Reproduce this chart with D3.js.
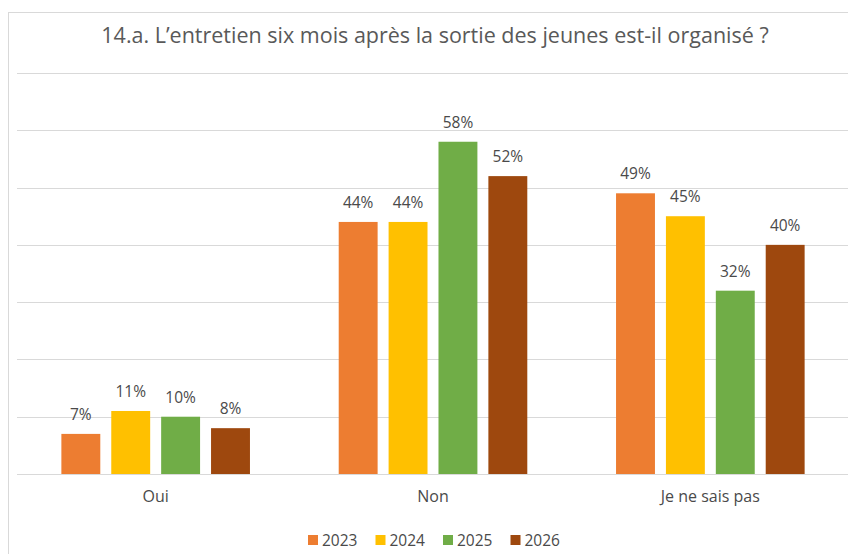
<!DOCTYPE html>
<html>
<head>
<meta charset="utf-8">
<script src="https://cdn.jsdelivr.net/npm/d3@7"></script>
<style>
    body { margin: 0; background: #fff; }
    text { font-family: "Open Sans", "DejaVu Sans", sans-serif; fill: #4a4a4a; }
</style>
</head>
<body>
<script>
(function () {
    var categories = ['Oui', 'Non', 'Je ne sais pas'];
    var years = ['2023', '2024', '2025', '2026'];
    var values2023 = [7, 44, 49];
    var values2024 = [11, 44, 45];
    var values2025 = [10, 58, 32];
    var values2026 = [8, 52, 40];
    var yTicks = [0, 10, 20, 30, 40, 50, 60, 70];
    var colors = ['#ED7D31', '#FFC000', '#70AD47', '#9E480E'];

    var seriesValues = [values2023, values2024, values2025, values2026];

    var width = 848,
        height = 554,
        plotLeft = 17,
        plotRight = 849,
        plotTop = 73,
        plotBottom = 474;

    var svg = d3.select('body')
        .append('svg')
        .attr('width', width)
        .attr('height', height);

    // Chart frame
    svg.append('rect')
        .attr('x', 8.5)
        .attr('y', 12.5)
        .attr('width', 900)
        .attr('height', 600)
        .style('fill', 'none')
        .style('stroke', '#d9d9d9');

    var x0 = d3.scaleBand()
        .domain(categories)
        .range([plotLeft, plotRight]);

    var x1 = d3.scaleBand()
        .domain(years)
        .range([0, x0.bandwidth() * 0.68])
        .paddingInner(0.22);

    var y = d3.scaleLinear()
        .domain([0, 70])
        .range([plotBottom, plotTop]);

    // Gridlines
    svg.selectAll('.grid')
        .data(yTicks)
        .enter()
        .append('line')
        .attr('class', 'grid')
        .attr('x1', plotLeft)
        .attr('x2', plotRight)
        .attr('y1', function (d) { return Math.round(y(d)) + 0.5; })
        .attr('y2', function (d) { return Math.round(y(d)) + 0.5; })
        .style('stroke', '#d9d9d9')
        .style('stroke-width', 1);

    var groupOffset = (x0.bandwidth() - x1.range()[1]) / 2;

    var groups = svg.selectAll('.group')
        .data(categories)
        .enter()
        .append('g')
        .attr('class', 'group')
        .attr('transform', function (d) {
            return 'translate(' + (x0(d) + groupOffset) + ',0)';
        });

    groups.selectAll('rect')
        .data(function (d, i) {
            return years.map(function (yr, j) {
                return { year: yr, value: seriesValues[j][i], color: colors[j] };
            });
        })
        .enter()
        .append('rect')
        .attr('x', function (d) { return x1(d.year); })
        .attr('y', function (d) { return y(d.value); })
        .attr('width', x1.bandwidth())
        .attr('height', function (d) { return plotBottom - y(d.value); })
        .style('fill', function (d) { return d.color; });

    // Data labels
    groups.selectAll('.label')
        .data(function (d, i) {
            return years.map(function (yr, j) {
                return { year: yr, value: seriesValues[j][i] };
            });
        })
        .enter()
        .append('text')
        .attr('class', 'label')
        .attr('x', function (d) { return x1(d.year) + x1.bandwidth() / 2; })
        .attr('y', function (d) { return y(d.value) - 14; })
        .attr('text-anchor', 'middle')
        .style('font-size', '15.5px')
        .text(function (d) { return d.value + '%'; });

    // Category axis
    var xAxis = d3.axisBottom(x0).tickSize(0).tickPadding(17);
    var axis = svg.append('g')
        .attr('transform', 'translate(0,' + plotBottom + ')')
        .call(xAxis);
    axis.select('.domain').remove();
    axis.selectAll('text')
        .style('font-size', '16px')
        .style('font-family', '"Open Sans", sans-serif')
        .attr('fill', '#4a4a4a');

    // Title
    svg.append('text')
        .attr('x', 435)
        .attr('y', 43)
        .attr('text-anchor', 'middle')
        .style('font-size', '21.5px')
        .style('fill', '#595959')
        .text('14.a. L\u2019entretien six mois après la sortie des jeunes est-il organisé ?');

    // Legend
    var legend = svg.selectAll('.legend')
        .data(years)
        .enter()
        .append('g')
        .attr('class', 'legend')
        .attr('transform', function (d, i) {
            return 'translate(' + (308 + i * 67.5) + ',535)';
        });

    legend.append('rect')
        .attr('width', 10)
        .attr('height', 10)
        .style('fill', function (d, i) { return colors[i]; });

    legend.append('text')
        .attr('x', 14)
        .attr('y', 11)
        .style('font-size', '15.5px')
        .text(function (d) { return d; });
})();
</script>
</body>
</html>
